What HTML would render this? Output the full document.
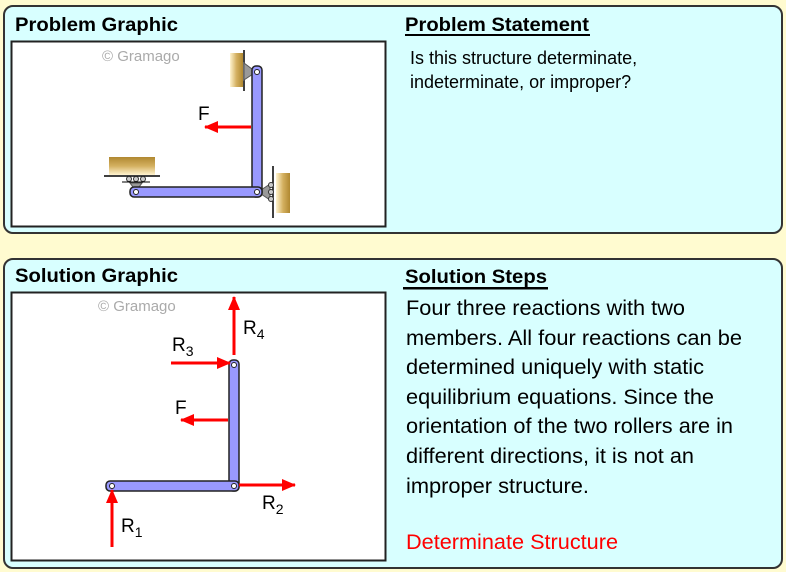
<!DOCTYPE html>
<html><head><meta charset="utf-8"><style>
html,body{margin:0;padding:0;background:#fffbd0;}
svg{display:block;font-family:"Liberation Sans",Arial,sans-serif;}
</style></head><body>
<svg width="786" height="572" viewBox="0 0 786 572" xmlns="http://www.w3.org/2000/svg">
<defs>
<linearGradient id="wood" x1="0" y1="0" x2="1" y2="0"><stop offset="0" stop-color="#fff4d0"/><stop offset="0.5" stop-color="#d4b060"/><stop offset="1" stop-color="#b08830"/></linearGradient>
<linearGradient id="woodv" x1="0" y1="0" x2="0" y2="1"><stop offset="0" stop-color="#b08830"/><stop offset="0.5" stop-color="#d4b060"/><stop offset="1" stop-color="#fff4d0"/></linearGradient>
<marker id="ah" markerWidth="14" markerHeight="12" refX="13" refY="6" orient="auto" markerUnits="userSpaceOnUse"><path d="M0,0 L14,6 L0,12 z" fill="#f00"/></marker>
</defs>
<rect width="786" height="572" fill="#fffbd0"/>
<rect x="4" y="6" width="778" height="227" rx="9" fill="#d8ffff" stroke="#333" stroke-width="2"/>
<rect x="4" y="259" width="778" height="309" rx="9" fill="#d8ffff" stroke="#333" stroke-width="2"/>
<rect x="11.5" y="41.5" width="374" height="185" fill="#fff" stroke="#222" stroke-width="2"/>
<rect x="11.5" y="292.5" width="374" height="268" fill="#fff" stroke="#222" stroke-width="2"/>
<g font-weight="bold" font-size="19.5" fill="#000" lengthAdjust="spacingAndGlyphs">
<text x="15" y="31" textLength="163" lengthAdjust="spacingAndGlyphs">Problem Graphic</text>
<text x="15" y="282" textLength="163" lengthAdjust="spacingAndGlyphs">Solution Graphic</text>
<text x="405" y="31" textLength="184" lengthAdjust="spacingAndGlyphs">Problem Statement</text>
<text x="405" y="283" textLength="142" lengthAdjust="spacingAndGlyphs">Solution Steps</text>
</g>
<rect x="405" y="34" width="185" height="2" fill="#000"/>
<rect x="403" y="287" width="145" height="2.5" fill="#000"/>
<g font-size="18" fill="#000">
<text x="410" y="64">Is this structure determinate,</text>
<text x="410" y="88">indeterminate, or improper?</text>
</g>
<g font-size="21" fill="#000">
<text x="406" y="315" textLength="279" lengthAdjust="spacingAndGlyphs">Four three reactions with two</text>
<text x="406" y="345" textLength="336" lengthAdjust="spacingAndGlyphs">members. All four reactions can be</text>
<text x="406" y="374" textLength="298" lengthAdjust="spacingAndGlyphs">determined uniquely with static</text>
<text x="406" y="404" textLength="308" lengthAdjust="spacingAndGlyphs">equilibrium equations. Since the</text>
<text x="406" y="433" textLength="327" lengthAdjust="spacingAndGlyphs">orientation of the two rollers are in</text>
<text x="406" y="463" textLength="288" lengthAdjust="spacingAndGlyphs">different directions, it is not an</text>
<text x="406" y="493" textLength="183" lengthAdjust="spacingAndGlyphs">improper structure.</text>
<text x="406" y="549" fill="#f00" textLength="212" lengthAdjust="spacingAndGlyphs">Determinate Structure</text>
</g>
<g font-size="15" fill="#aaa"><text x="102" y="61">© Gramago</text><text x="98" y="311">© Gramago</text></g>

<!-- problem graphic -->
<rect x="230" y="53" width="13" height="34" fill="url(#wood)"/>
<line x1="244" y1="50" x2="244" y2="91" stroke="#000" stroke-width="1.5"/>
<path d="M244,63 L256,72 L244,80 z" fill="#999" stroke="#555"/>
<rect x="276" y="173" width="14" height="40" fill="url(#wood)"/>
<line x1="273" y1="166" x2="273" y2="218" stroke="#000" stroke-width="1.5"/>
<path d="M258,192 L270,184 L270,200 z" fill="#999" stroke="#555"/>
<circle cx="271" cy="185" r="2.5" fill="#ccc" stroke="#333"/><circle cx="271" cy="192" r="2.5" fill="#ccc" stroke="#333"/><circle cx="271" cy="199" r="2.5" fill="#ccc" stroke="#333"/>
<rect x="109" y="157" width="46" height="18" fill="url(#woodv)"/>
<line x1="104" y1="176" x2="160" y2="176" stroke="#000" stroke-width="1.5"/>
<circle cx="129" cy="179" r="2.5" fill="#ccc" stroke="#333"/><circle cx="136" cy="179" r="2.5" fill="#ccc" stroke="#333"/><circle cx="143" cy="179" r="2.5" fill="#ccc" stroke="#333"/>
<line x1="122" y1="182" x2="150" y2="182" stroke="#000"/>
<path d="M130,183 L142,183 L136,191 z" fill="#999" stroke="#555"/>
<rect x="252" y="66" width="10" height="131" rx="4" fill="#9999ff" stroke="#222" stroke-width="1.5"/>
<rect x="130" y="187" width="132" height="10" rx="4" fill="#9999ff" stroke="#222" stroke-width="1.5"/>
<g fill="#fff" stroke="#222"><circle cx="257" cy="72" r="2.5"/><circle cx="136" cy="192" r="2.5"/><circle cx="257" cy="192" r="2.5"/></g>
<line x1="251" y1="127" x2="205" y2="127" stroke="#f00" stroke-width="3" marker-end="url(#ah)"/>
<text x="198" y="120" font-size="19">F</text>

<!-- solution graphic -->
<rect x="229" y="360" width="10" height="131" rx="4" fill="#9999ff" stroke="#222" stroke-width="1.5"/>
<rect x="106" y="481" width="133" height="10" rx="4" fill="#9999ff" stroke="#222" stroke-width="1.5"/>
<g fill="#fff" stroke="#222"><circle cx="234" cy="365" r="2.5"/><circle cx="112" cy="486" r="2.5"/><circle cx="234" cy="486" r="2.5"/></g>
<g stroke="#f00" stroke-width="3">
<line x1="234" y1="355" x2="234" y2="297" marker-end="url(#ah)"/>
<line x1="171" y1="363" x2="230" y2="363" marker-end="url(#ah)"/>
<line x1="228" y1="420" x2="181" y2="420" marker-end="url(#ah)"/>
<line x1="239" y1="485" x2="295" y2="485" marker-end="url(#ah)"/>
<line x1="112" y1="547" x2="112" y2="490" marker-end="url(#ah)"/>
</g>
<g font-size="19">
<text x="243" y="334">R<tspan font-size="14" dy="5">4</tspan></text>
<text x="172" y="351">R<tspan font-size="14" dy="5">3</tspan></text>
<text x="175" y="414">F</text>
<text x="262" y="509">R<tspan font-size="14" dy="5">2</tspan></text>
<text x="121" y="532">R<tspan font-size="14" dy="5">1</tspan></text>
</g>
</svg>
</body></html>
